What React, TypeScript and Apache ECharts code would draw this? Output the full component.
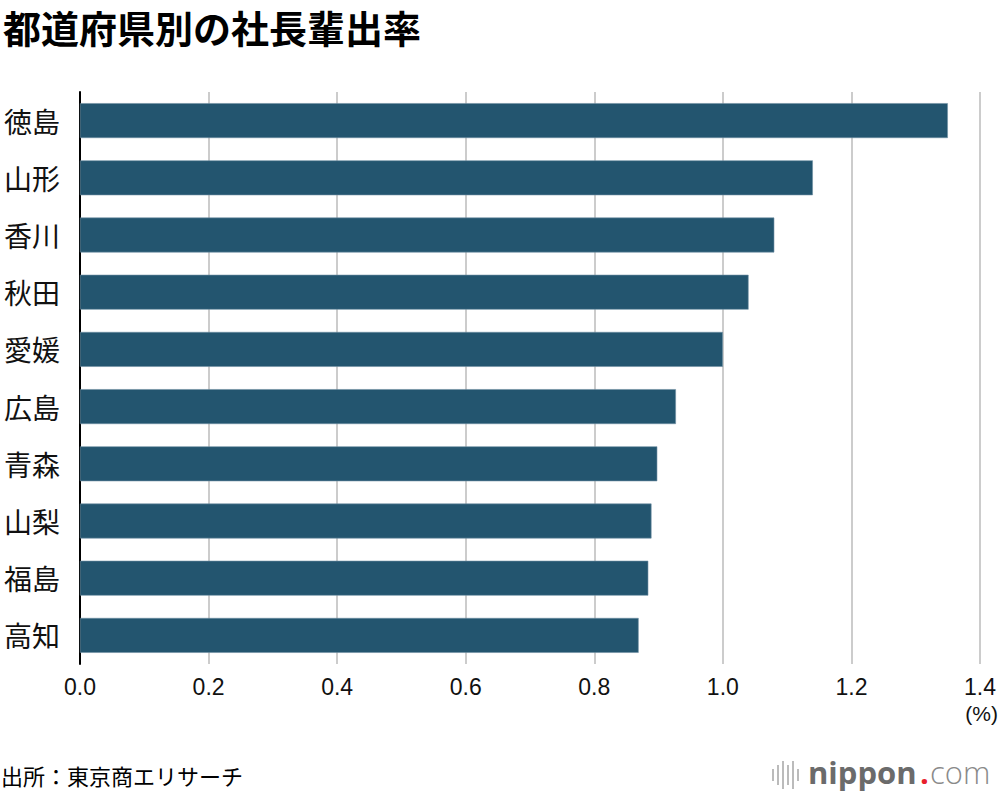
import React, { useEffect, useRef } from "react";
import * as echarts from "echarts";

const categories = ["徳島", "山形", "香川", "秋田", "愛媛", "広島", "青森", "山梨", "福島", "高知"];
const values = [1.35, 1.14, 1.08, 1.04, 1.0, 0.927, 0.898, 0.889, 0.884, 0.869];
const titleText = "都道府県別の社長輩出率";
const sourceText = "出所：東京商エリサーチ";
const unitText = "(%)";

const FONT = "'Liberation Sans', 'Noto Sans CJK JP', sans-serif";
const CJK = "'Noto Sans CJK JP', sans-serif";

export default function App() {
  const ref = useRef<HTMLDivElement>(null);
  useEffect(() => {
    if (!ref.current) return;
    const chart = echarts.init(ref.current, null, { renderer: "svg" });
    const iconBars = [
      [772, 6], [777, 10], [782, 14], [787, 10], [792, 14], [797, 6],
    ];
    chart.setOption({
      animation: false,
      backgroundColor: "#ffffff",
      textStyle: { fontFamily: FONT },
      grid: { left: 80, right: 20, top: 92, height: 572, containLabel: false },
      xAxis: {
        type: "value",
        min: 0,
        max: 1.4,
        interval: 0.2,
        axisLine: { show: false },
        axisTick: { show: false },
        splitLine: { show: true, lineStyle: { color: "#cccccc", width: 2 } },
        axisLabel: {
          color: "#111",
          fontSize: 23,
          fontFamily: FONT,
          margin: 11,
          formatter: (v: number) => v.toFixed(1),
        },
      },
      yAxis: {
        type: "category",
        data: categories,
        inverse: true,
        axisLine: { show: true, lineStyle: { color: "#000", width: 2 } },
        axisTick: { show: false },
        axisLabel: { color: "#111", fontSize: 28, fontFamily: CJK, margin: 20 },
      },
      series: [
        {
          type: "bar",
          data: values,
          barCategoryGap: "39%",
          itemStyle: { color: "#23556f", borderColor: "#6e8fa3", borderWidth: 0.6 },
        },
      ],
      graphic: [
        {
          type: "text",
          x: 3,
          y: 26,
          style: {
            text: titleText,
            fontSize: 38,
            fontWeight: "bold",
            fontFamily: CJK,
            fill: "#000",
            textAlign: "left",
            textVerticalAlign: "middle",
            lineHeight: 40,
          },
        },
        {
          type: "text",
          x: 998,
          y: 713,
          style: {
            text: unitText,
            fontSize: 21,
            fontFamily: FONT,
            fill: "#111",
            textAlign: "right",
            textVerticalAlign: "middle",
          },
        },
        {
          type: "text",
          x: 1,
          y: 775,
          style: {
            text: sourceText,
            fontSize: 22,
            fontFamily: CJK,
            fill: "#000",
            textAlign: "left",
            textVerticalAlign: "middle",
          },
        },
        ...iconBars.map(([x, h]) => ({
          type: "rect",
          shape: { x, y: 775 - h, width: 2, height: h * 2 },
          style: { fill: "#bbbbbb" },
        })),
        {
          type: "text",
          x: 808,
          y: 772,
          style: {
            text: "nippon",
            fontSize: 31,
            fontWeight: "bold",
            fontFamily: "'Open Sans', sans-serif",
            fill: "#6b6b6b",
            textAlign: "left",
            textVerticalAlign: "middle",
          },
        },
        {
          type: "text",
          x: 920,
          y: 772,
          style: {
            text: ".",
            fontSize: 31,
            fontWeight: "bold",
            fontFamily: "'Open Sans', sans-serif",
            fill: "#e8202a",
            textAlign: "left",
            textVerticalAlign: "middle",
          },
        },
        {
          type: "text",
          x: 930,
          y: 772,
          style: {
            text: "com",
            fontSize: 31,
            fontWeight: 300,
            fontFamily: "'Open Sans', sans-serif",
            fill: "#8a8a8a",
            textAlign: "left",
            textVerticalAlign: "middle",
          },
        },
      ],
    });
    return () => chart.dispose();
  }, []);
  return <div ref={ref} style={{ position: "fixed", left: 0, top: 0, width: 1000, height: 796 }} />;
}
